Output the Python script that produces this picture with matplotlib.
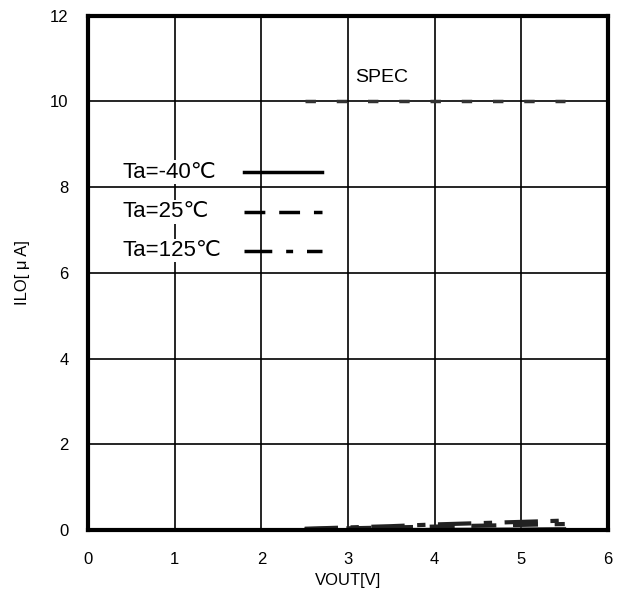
import matplotlib.pyplot as plt

plt.rcParams['font.family'] = ['Liberation Sans', 'DejaVu Sans']

# leakage current vs output voltage
vout_m40 = [0.0, 1.0, 2.0, 2.5, 3.0, 4.0, 5.0, 5.5]
ilo_m40 = [0.0, 0.0, 0.0, 0.01, 0.01, 0.02, 0.03, 0.04]
vout_25 = [2.5, 3.0, 3.5, 4.0, 4.5, 5.0, 5.5]
ilo_25 = [0.02, 0.04, 0.06, 0.08, 0.1, 0.12, 0.14]
vout_125 = [2.5, 3.0, 3.5, 4.0, 4.5, 5.0, 5.5]
ilo_125 = [0.03, 0.06, 0.09, 0.13, 0.16, 0.19, 0.22]
spec_x = [2.5, 5.5]
spec_y = [10.0, 10.0]

legend_labels = ['Ta=-40℃', 'Ta=25℃', 'Ta=125℃']
legend_y = [8.35, 7.42, 6.52]

fig = plt.figure(figsize=(6.17, 5.94), dpi=100)
ax = fig.add_axes([0.1426, 0.1077, 0.843, 0.866])

ax.plot(vout_m40, ilo_m40, color='#444444', lw=2)
ax.plot(vout_25, ilo_25, color='#222222', lw=3, dashes=(6, 4))
ax.plot(vout_125, ilo_125, color='#222222', lw=3, dashes=(8, 3, 2, 3))
ax.plot(spec_x, spec_y, color='#333333', lw=2.5, dashes=(3, 6))

ax.text(3.08, 10.45, 'SPEC', fontsize=14)

styles = [dict(ls='-'), dict(dashes=(6, 4)), dict(dashes=(8, 4, 2, 4))]
for lab, y, st in zip(legend_labels, legend_y, styles):
    ax.text(0.4, y, lab, fontsize=16, va='center',
            bbox=dict(facecolor='white', edgecolor='none', pad=1))
    ax.plot([1.8, 2.7], [y, y], color='black', lw=2.5, **st)

ax.set_xlim(0, 6)
ax.set_ylim(0, 12)
ax.set_xticks(range(0, 7))
ax.set_yticks(range(0, 13, 2))
ax.grid(True, color='black', lw=1.2)
ax.set_axisbelow(True)
ax.tick_params(length=0, labelsize=12)
ax.tick_params(axis='x', pad=16)
ax.tick_params(axis='y', pad=14)
for s in ax.spines.values():
    s.set_linewidth(3)
ax.set_xlabel('VOUT[V]', fontsize=12, labelpad=4)
ax.set_ylabel('ILO[ μ A]', fontsize=12, labelpad=14)

fig.savefig('out.png', dpi=100)
